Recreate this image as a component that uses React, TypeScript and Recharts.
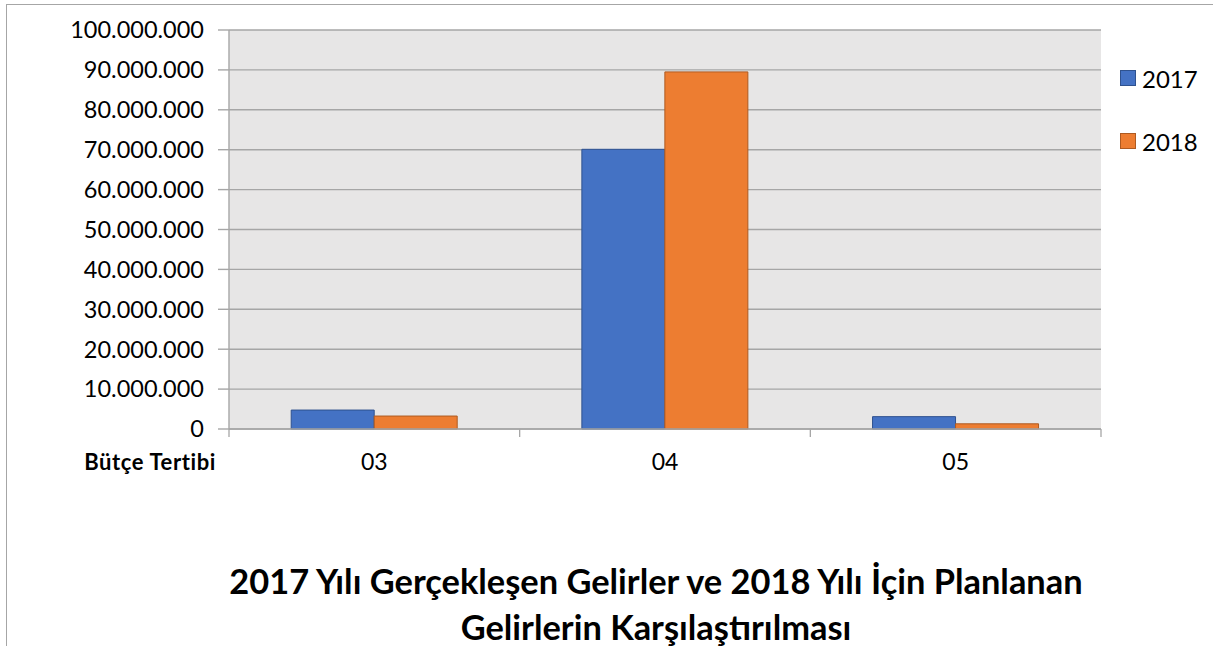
import React from "react"
import { BarChart, Bar, XAxis, YAxis, CartesianGrid } from "recharts"

const categories = ["03", "04", "05"]
const values2017 = [4750000, 70100000, 3100000]
const values2018 = [3250000, 89500000, 1300000]
const yTicks = [0, 10000000, 20000000, 30000000, 40000000, 50000000, 60000000, 70000000, 80000000, 90000000, 100000000]
const seriesNames = ["2017", "2018"]
const seriesFill = ["#4472c4", "#ed7d31"]
const seriesStroke = ["#2f528f", "#ae5a21"]
const titleLines = ["2017 Yılı Gerçekleşen Gelirler ve 2018 Yılı İçin Planlanan", "Gelirlerin Karşılaştırılması"]
const axisTitle = "Bütçe Tertibi"

const data = categories.map((c, i) => ({ cat: c, y2017: values2017[i], y2018: values2018[i] }))

const W = 1213
const H = 646
const M = { top: 30, right: 112, bottom: 177, left: 0 }
const Y_W = 229
const PLOT_W = W - M.left - M.right - Y_W
const AXIS_GRAY = "#a6a6a6"
const FONT = "Lato, 'Open Sans', sans-serif"

const fmt = (v: number) => String(v).replace(/\B(?=(\d{3})+(?!\d))/g, ".")

function CategoryTick(props: any) {
  const { x, y, payload, index } = props
  const step = PLOT_W / categories.length
  const left = x - step / 2
  const right = x + step / 2
  return (
    <g>
      <line x1={left} x2={left} y1={y} y2={y + 8} stroke={AXIS_GRAY} strokeWidth={1.3} />
      {index === categories.length - 1 && (
        <line x1={right} x2={right} y1={y} y2={y + 8} stroke={AXIS_GRAY} strokeWidth={1.3} />
      )}
      <text x={x} y={y + 25} dy="0.71em" textAnchor="middle" fill="#000" fontSize={23} fontFamily={FONT}>
        {payload.value}
      </text>
    </g>
  )
}

export default function App() {
  return (
    <div style={{ position: "absolute", left: 0, top: 0, width: W, height: H, background: "#fff", fontFamily: FONT }}>
      <div
        style={{
          position: "absolute",
          left: 6,
          top: 4,
          width: W - 6,
          height: H - 4,
          borderTop: `1.5px solid ${AXIS_GRAY}`,
          borderLeft: `1.5px solid ${AXIS_GRAY}`,
          boxSizing: "border-box",
        }}
      />
      <BarChart width={W} height={H} data={data} margin={M} barCategoryGap="21.4%" barGap={0}>
        <CartesianGrid vertical={false} stroke={AXIS_GRAY} strokeWidth={1.4} fill="#e7e6e6" />
        <XAxis
          dataKey="cat"
          height={40}
          axisLine={{ stroke: AXIS_GRAY, strokeWidth: 1.4 }}
          tickLine={false}
          tickSize={0}
          tickMargin={0}
          tick={<CategoryTick />}
          interval={0}
        />
        <YAxis
          width={Y_W}
          domain={[0, 100000000]}
          ticks={yTicks}
          interval={0}
          tickFormatter={fmt}
          tickSize={11}
          tickMargin={14}
          axisLine={{ stroke: AXIS_GRAY, strokeWidth: 1.4 }}
          tickLine={{ stroke: AXIS_GRAY, strokeWidth: 1.4 }}
          tick={{ fill: "#000", fontSize: 23.5, fontFamily: FONT }}
        />
        <Bar dataKey="y2017" name={seriesNames[0]} fill={seriesFill[0]} stroke={seriesStroke[0]} strokeWidth={1} isAnimationActive={false} />
        <Bar dataKey="y2018" name={seriesNames[1]} fill={seriesFill[1]} stroke={seriesStroke[1]} strokeWidth={1} isAnimationActive={false} />
      </BarChart>
      <div style={{ position: "absolute", left: 1120, top: 65 }}>
        {seriesNames.map((n, i) => (
          <div key={n} style={{ display: "flex", alignItems: "center", height: 26, marginBottom: 37 }}>
            <span
              style={{
                display: "inline-block",
                width: 16,
                height: 16,
                background: seriesFill[i],
                border: `1px solid ${seriesStroke[i]}`,
                boxSizing: "border-box",
                marginRight: 6,
              }}
            />
            <span style={{ fontSize: 24, color: "#000" }}>{n}</span>
          </div>
        ))}
      </div>
      <div
        style={{
          position: "absolute",
          right: W - 216,
          top: 448,
          fontSize: 22,
          letterSpacing: 0.6,
          fontWeight: 700,
          color: "#000",
          whiteSpace: "nowrap",
        }}
      >
        {axisTitle}
      </div>
      <div
        style={{
          position: "absolute",
          left: 656 - 550,
          width: 1100,
          top: 558,
          textAlign: "center",
          fontSize: 34.4,
          fontWeight: 700,
          lineHeight: "46px",
          color: "#000",
        }}
      >
        {titleLines.map((l, i) => (
          <div key={i}>{l}</div>
        ))}
      </div>
    </div>
  )
}
